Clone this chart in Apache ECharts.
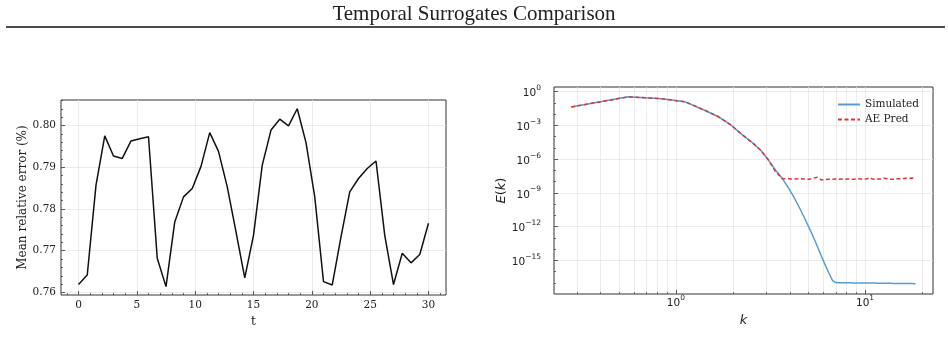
<!DOCTYPE html>
<html>
<head>
<meta charset="utf-8">
<script src="https://cdn.jsdelivr.net/npm/echarts@6/dist/echarts.min.js"></script>
<style>
  html, body { margin: 0; padding: 0; background: #fff; }
  #main { width: 948px; height: 351px; }
</style>
</head>
<body>
<div id="main"></div>
<script>
// left panel: mean relative error over time
var tVals = [0, 0.75, 1.5, 2.25, 3, 3.75, 4.5, 5.25, 6, 6.75, 7.5, 8.25, 9, 9.75, 10.5,
  11.25, 12, 12.75, 13.5, 14.25, 15, 15.75, 16.5, 17.25, 18, 18.75, 19.5, 20.25, 21,
  21.75, 22.5, 23.25, 24, 24.75, 25.5, 26.25, 27, 27.75, 28.5, 29.25, 30]
var errVals = [0.7619, 0.7642, 0.7857, 0.7975, 0.7927, 0.7921, 0.7963, 0.7968, 0.7973,
  0.7682, 0.7614, 0.7769, 0.7829, 0.7849, 0.7902, 0.7983, 0.7938, 0.7853, 0.7745,
  0.7635, 0.7737, 0.7905, 0.7989, 0.8015, 0.7999, 0.8040, 0.7959, 0.7829, 0.7626,
  0.7618, 0.7733, 0.7841, 0.7873, 0.7897, 0.7915, 0.7737, 0.7619, 0.7694, 0.7671,
  0.7691, 0.7766]
var tTicks = [0, 5, 10, 15, 20, 25, 30]
var tMinor = [-1, 1, 2, 3, 4, 6, 7, 8, 9, 11, 12, 13, 14, 16, 17, 18, 19, 21, 22, 23, 24, 26, 27, 28, 29, 31]
var errTicks = [0.76, 0.77, 0.78, 0.79, 0.80]
var errMinor = [0.762, 0.764, 0.766, 0.768, 0.772, 0.774, 0.776, 0.778, 0.782, 0.784,
  0.786, 0.788, 0.792, 0.794, 0.796, 0.798, 0.802, 0.804, 0.806]

// right panel: energy spectrum
var kVals = [0.28, 0.56, 0.84, 1.12, 1.40, 1.68, 1.96, 2.24, 2.52, 2.80, 3.08, 3.36, 3.64,
  3.92, 4.20, 4.48, 4.76, 5.04, 5.32, 5.60, 5.88, 6.16, 6.44, 6.72, 7.00, 7.28, 7.56,
  7.84, 8.12, 8.40, 8.68, 8.96, 9.24, 9.52, 9.80, 10.08, 10.36, 10.64, 10.92, 11.20,
  11.48, 11.76, 12.04, 12.32, 12.60, 12.88, 13.16, 13.44, 13.72, 14.00, 14.28, 14.56,
  14.84, 15.12, 15.40, 15.68, 15.96, 16.24, 16.52, 16.80, 17.08, 17.36, 17.64, 17.92,
  18.20, 18.48]
var simE = [4.4e-2, 3.5e-1, 2.4e-1, 1.26e-1, 2.5e-2, 5.9e-3, 1.07e-3, 1.5e-4, 3.2e-5,
  6.6e-6, 8.7e-7, 1.07e-7, 2.1e-8, 3.1e-9, 4.3e-10, 5.5e-11, 7.1e-12, 9.1e-13, 1.23e-13,
  1.7e-14, 2.3e-15, 3.7e-16, 7.4e-17, 1.66e-17, 1.05e-17, 1.0e-17,
  9.9e-18, 9.9e-18, 9.8e-18, 9.8e-18, 9.7e-18, 9.7e-18, 9.6e-18, 9.6e-18, 9.5e-18,
  9.5e-18, 9.4e-18, 9.4e-18, 9.3e-18, 9.3e-18, 9.2e-18, 9.2e-18, 9.1e-18, 9.1e-18, 9.0e-18,
  9.0e-18, 8.9e-18, 8.9e-18, 8.9e-18, 8.8e-18, 8.8e-18, 8.8e-18, 8.7e-18, 8.7e-18, 8.7e-18,
  8.6e-18, 8.6e-18, 8.6e-18, 8.5e-18, 8.5e-18, 8.5e-18, 8.4e-18, 8.4e-18, 8.4e-18, 8.3e-18, 8.3e-18]
var predE = [4.4e-2, 3.5e-1, 2.4e-1, 1.26e-1, 2.5e-2, 5.9e-3, 1.07e-3, 1.5e-4, 3.2e-5,
  6.6e-6, 8.7e-7, 7.9e-8, 1.9e-8,
  1.8e-8, 1.7e-8, 1.8e-8, 1.7e-8, 1.6e-8, 2.0e-8, 2.4e-8, 1.4e-8, 1.5e-8, 1.6e-8,
  1.6e-8, 1.7e-8, 1.6e-8, 1.7e-8, 1.6e-8, 1.7e-8, 1.7e-8, 1.6e-8, 1.7e-8, 1.8e-8,
  1.7e-8, 1.6e-8, 1.7e-8, 1.9e-8, 2.2e-8, 1.7e-8, 1.6e-8, 1.7e-8, 1.8e-8, 1.7e-8,
  1.8e-8, 2.0e-8, 2.3e-8, 1.8e-8, 1.7e-8, 1.6e-8, 1.7e-8, 1.6e-8, 1.7e-8, 1.8e-8,
  1.7e-8, 1.8e-8, 1.7e-8, 1.9e-8, 1.8e-8, 2.0e-8, 2.3e-8, 1.9e-8, 1.8e-8, 2.1e-8,
  2.2e-8, 1.9e-8, 2.0e-8]
var kTickExp = [0, 1]
var kMinor = [0.3, 0.4, 0.5, 0.6, 0.7, 0.8, 0.9, 2, 3, 4, 5, 6, 7, 8, 9, 20]
var eTickExp = [-15, -12, -9, -6, -3, 0]
var eMinorExp = [-17, -16, -14, -13, -11, -10, -8, -7, -5, -4, -2, -1]

var myChart = echarts.init(document.getElementById('main'))

var serif = 'DejaVu Serif'
var sans = 'DejaVu Sans'
var edge = '#333'
var gridCol = '#e6e6e6'

function lg(v) { return Math.log10(v) }
function pairs(xs, ys, f) {
  var out = []
  for (var i = 0; i < xs.length; i++) out.push(f ? [lg(xs[i]), lg(ys[i])] : [xs[i], ys[i]])
  return out
}
function supLabel(v) {
  var e = Math.round(v)
  return '{b|10}{s|' + (e < 0 ? '\u2212' + (-e) : e) + '}'
}
var supRich = {
  b: { fontFamily: sans, fontSize: 10.5, color: '#222', padding: [4, 0, 0, 0] },
  s: { fontFamily: sans, fontSize: 7.5, color: '#222', verticalAlign: 'top' }
}

// main axis + overlaid axis for the minor ticks
function mainAxis(gi, pos, min, max, ticks, labelFn, extra) {
  var a = {
    type: 'value', gridIndex: gi, position: pos, min: min, max: max,
    axisLine: { show: false, onZero: false },
    axisTick: { show: true, inside: true, length: 4, customValues: ticks, lineStyle: { color: edge, width: 0.8 } },
    axisLabel: { show: true, customValues: ticks, formatter: labelFn, color: '#222' },
    splitLine: { show: true, lineStyle: { color: gridCol, width: 0.8 } }
  }
  for (var k in extra) a[k] = extra[k]
  return a
}
function minorAxis(gi, pos, min, max, ticks, grid) {
  return {
    type: 'value', gridIndex: gi, position: pos, min: min, max: max,
    axisLine: { show: false, onZero: false },
    axisTick: { show: true, inside: true, length: 2, customValues: ticks, lineStyle: { color: edge, width: 0.7 } },
    axisLabel: { show: false },
    splitLine: { show: !!grid, lineStyle: { color: gridCol, width: 0.8 } }
  }
}

var option = {
  backgroundColor: '#fff',
  animation: false,
  graphic: [
    { type: 'text', left: 'center', top: 4,
      style: { text: 'Temporal Surrogates Comparison', font: '21px "Liberation Serif"', fill: '#222' } },
    { type: 'line', shape: { x1: 6, y1: 27, x2: 945, y2: 27 }, style: { stroke: '#111', lineWidth: 1.3 } }
  ],
  legend: {
    right: 24, top: 94, orient: 'vertical', itemGap: 4, itemWidth: 22, itemHeight: 10,
    itemStyle: { opacity: 0 },
    textStyle: { fontFamily: serif, fontSize: 10.5, color: '#222' },
    data: ['Simulated', 'AE Pred']
  },
  grid: [
    { left: 61, top: 100, right: 502, bottom: 56, show: true, borderColor: edge, borderWidth: 1, backgroundColor: 'transparent' },
    { left: 554, top: 87, right: 15, bottom: 57, show: true, borderColor: edge, borderWidth: 1, backgroundColor: 'transparent' }
  ],
  xAxis: [
    mainAxis(0, 'bottom', -1.5, 31.5, tTicks, function (v) { return String(v) }, {
      name: 't', nameLocation: 'middle', nameGap: 17,
      nameTextStyle: { fontFamily: serif, fontSize: 12, color: '#222' },
      axisLabel: { customValues: tTicks, margin: 5, fontFamily: serif, fontSize: 10.5, color: '#222',
        formatter: function (v) { return String(v) } }
    }),
    minorAxis(0, 'bottom', -1.5, 31.5, tMinor, false),
    mainAxis(1, 'bottom', -0.644, 1.359, kTickExp, supLabel, {
      name: '{i|k}', nameLocation: 'middle', nameGap: 15,
      nameTextStyle: { fontFamily: sans, fontSize: 13, color: '#222', rich: { i: { fontFamily: sans, fontSize: 13, fontStyle: 'italic', color: '#222' } } },
      axisLabel: { customValues: kTickExp, margin: 0, formatter: supLabel, rich: supRich }
    }),
    minorAxis(1, 'bottom', -0.644, 1.359, kMinor.map(lg), true)
  ],
  yAxis: [
    mainAxis(0, 'left', 0.7594, 0.8061, errTicks, function (v) { return v.toFixed(2) }, {
      name: 'Mean relative error (%)', nameLocation: 'middle', nameGap: 32,
      nameTextStyle: { fontFamily: serif, fontSize: 12, color: '#222' },
      axisLabel: { customValues: errTicks, margin: 5, fontFamily: serif, fontSize: 10.5, color: '#222',
        formatter: function (v) { return v.toFixed(2) } }
    }),
    minorAxis(0, 'left', 0.7594, 0.8061, errMinor, false),
    mainAxis(1, 'left', -18, 0.42, eTickExp, supLabel, {
      name: '{i|E}({i|k})', nameLocation: 'middle', nameGap: 38,
      nameTextStyle: { fontFamily: sans, fontSize: 13, color: '#222', rich: { i: { fontFamily: sans, fontSize: 13, fontStyle: 'italic', color: '#222' } } },
      axisLabel: { customValues: eTickExp, margin: 13, formatter: supLabel, rich: supRich }
    }),
    minorAxis(1, 'left', -18, 0.42, eMinorExp, false)
  ],
  series: [
    {
      name: 'err', type: 'line', xAxisIndex: 0, yAxisIndex: 0,
      data: pairs(tVals, errVals, false), symbol: 'none',
      lineStyle: { color: '#111', width: 1.5 }
    },
    {
      name: 'Simulated', type: 'line', xAxisIndex: 2, yAxisIndex: 2,
      data: pairs(kVals, simE, true), symbol: 'none',
      itemStyle: { color: '#5a9bd3' },
      lineStyle: { color: '#5a9bd3', width: 1.5 }
    },
    {
      name: 'AE Pred', type: 'line', xAxisIndex: 2, yAxisIndex: 2,
      data: pairs(kVals, predE, true), symbol: 'none',
      itemStyle: { color: '#d8383a' },
      lineStyle: { color: '#d8383a', width: 1.5, type: [4, 2.5] }
    }
  ]
}
myChart.setOption(option)
</script>
</body>
</html>
